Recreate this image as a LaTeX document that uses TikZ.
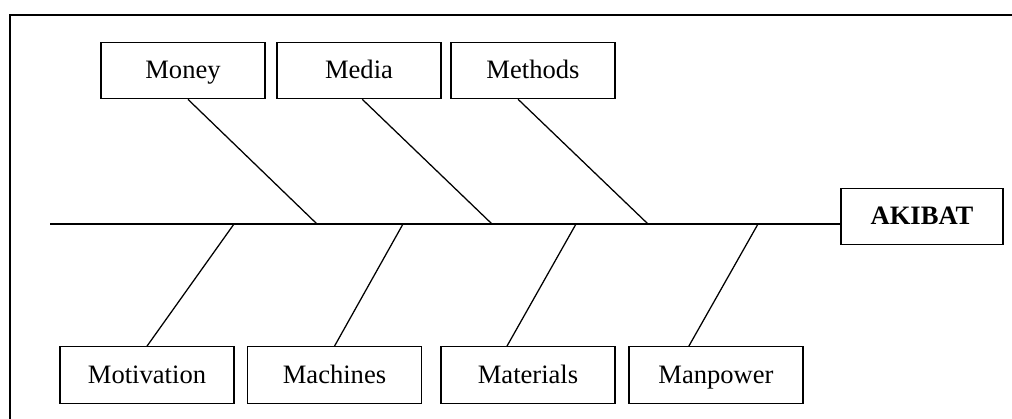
\documentclass[tikz,border=0pt]{standalone}
\usepackage{fontspec}
\setmainfont{Liberation Serif}
\usetikzlibrary{positioning,calc}

\begin{document}
\begin{tikzpicture}[x=0.025cm, y=-0.025cm, line width=0.9pt,
    causebox/.style={draw, rectangle, inner sep=0pt, minimum height=1.41cm, text height=14pt, text depth=2pt, font=\fontsize{18.9}{22}\selectfont}]
      \useasboundingbox (0,0) rectangle (1012,419);
      \clip (0,0) rectangle (1012,419);
      \draw[line width=1.1pt] (10,15) rectangle (1040,450);
      % sebab (atas)
      \node[causebox, minimum width=4.1cm] (money) at (183,70.5) {Money};
      \node[causebox, minimum width=4.1cm] (media) at (359,70.5) {Media};
      \node[causebox, minimum width=4.1cm] (methods) at (533,70.5) {Methods};
      % sebab (bawah)
      \node[causebox, minimum width=4.35cm] (motivation) at (147,375) {Motivation};
      \node[causebox, minimum width=4.35cm] (machines) at (334.5,375) {Machines};
      \node[causebox, minimum width=4.35cm] (materials) at (528,375) {Materials};
      \node[causebox, minimum width=4.35cm] (manpower) at (716,375) {Manpower};
      % akibat
      \node[causebox, minimum width=4.05cm, font=\fontsize{18.9}{22}\selectfont\bfseries] (akibat) at (922,216.5) {AKIBAT};
      % tulang utama
      \coordinate (tail) at (50,224);
      \draw (tail) -- (tail -| akibat.west);
      \coordinate (jmoney) at (317,224);
      \coordinate (jmedia) at (492,224);
      \coordinate (jmethods) at (648,224);
      \coordinate (jmotivation) at (234,224);
      \coordinate (jmachines) at (403,224);
      \coordinate (jmaterials) at (576,224);
      \coordinate (jmanpower) at (758,224);
      \draw ($(money.south west)!0.53!(money.south east)$) -- (jmoney);
      \draw ($(media.south west)!0.52!(media.south east)$) -- (jmedia);
      \draw ($(methods.south west)!0.41!(methods.south east)$) -- (jmethods);
      \draw (motivation.north) -- (jmotivation);
      \draw (machines.north) -- (jmachines);
      \draw ($(materials.north west)!0.38!(materials.north east)$) -- (jmaterials);
      \draw ($(manpower.north west)!0.345!(manpower.north east)$) -- (jmanpower);
    \end{tikzpicture}
\end{document}
